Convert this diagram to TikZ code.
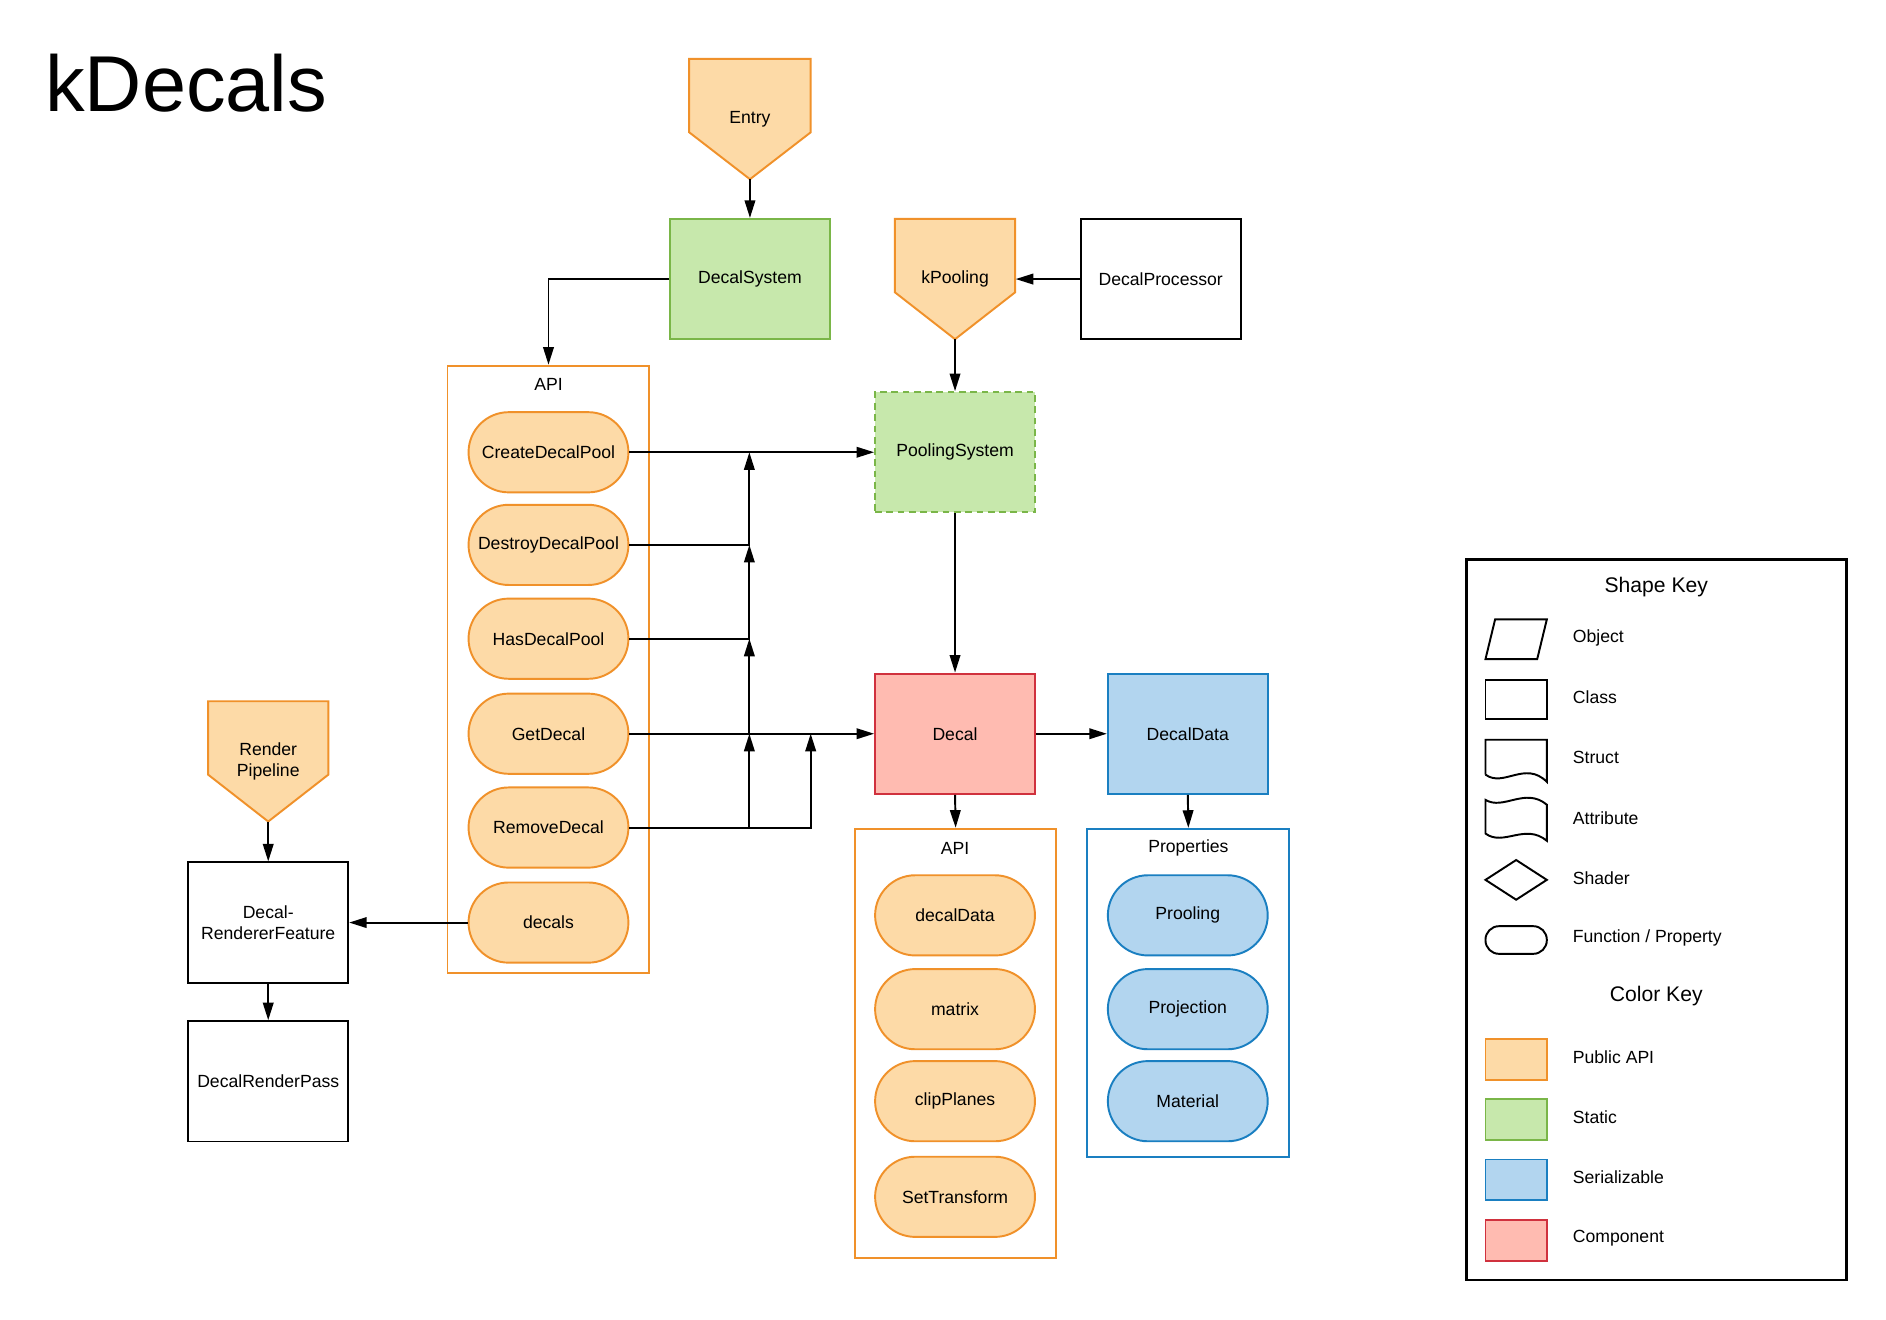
\documentclass[tikz,border=0pt]{standalone}
\usepackage{fontspec}
\setmainfont{Liberation Sans}
\usepackage{tikz}
\usetikzlibrary{arrows.meta}
\usepackage{xcolor}

\definecolor{apifill}{HTML}{FDDAA7}
\definecolor{apiline}{HTML}{F0912A}
\definecolor{staticfill}{HTML}{C7E8AC}
\definecolor{staticline}{HTML}{7AB648}
\definecolor{serialfill}{HTML}{B2D5EF}
\definecolor{serialline}{HTML}{1A7FC1}
\definecolor{compfill}{HTML}{FFBBB1}
\definecolor{compline}{HTML}{D0313E}

\begin{document}
\begin{tikzpicture}[x=0.024cm, y=-0.024cm, line width=1.1pt,
    classbox/.style={rectangle, draw=black, fill=white, minimum width=3.19cm, minimum height=2.4cm, align=center},
    staticbox/.style={classbox, draw=staticline, fill=staticfill},
    compbox/.style={classbox, draw=compline, fill=compfill},
    serialbox/.style={classbox, draw=serialline, fill=serialfill},
    pill/.style={rectangle, rounded corners=0.8cm, minimum width=3.19cm, minimum height=1.6cm, align=center},
    apipill/.style={pill, draw=apiline, fill=apifill},
    serialpill/.style={pill, draw=serialline, fill=serialfill},
    tagshape/.style={draw=apiline, fill=apifill},
    tag/.style={rectangle, inner sep=0pt, outer sep=0pt, minimum width=2.42cm, minimum height=2.4cm, align=center},
    group/.style={rectangle, draw, fill=white},
    keyline/.style={draw=black, line width=1.1pt},
    keytext/.style={anchor=west},
    arr/.style={-{Triangle[length=10pt, width=6pt]}}]

    \fill[white] (0,0) rectangle (1568,1097);
    \useasboundingbox (0,0) rectangle (1568,1097);

    % Title
    \node[anchor=base west, font=\fontsize{45}{54}\selectfont] (title) at (32,93) {kDecals};

    % Entry points
    \draw[tagshape] (573,49) -- (674,49) -- (674,110) -- (623.5,149) -- (573,110) -- cycle;
    \node[tag] (entry) at (623.5,99) {Entry};
    \draw[tagshape] (744,182) -- (844,182) -- (844,243) -- (794,282) -- (744,243) -- cycle;
    \node[tag] (kpool) at (794,232) {kPooling};
    \draw[tagshape] (173,583) -- (273,583) -- (273,644) -- (223,683) -- (173,644) -- cycle;
    \node[tag] (render) at (223,633) {Render\\Pipeline};

    % Classes
    \node[staticbox] (decalsys) at (623.5,232) {DecalSystem};
    \node[classbox] (decalproc) at (965,232) {DecalProcessor};
    \node[staticbox, dash pattern=on 3.8pt off 2.6pt] (poolsys) at (794,376) {PoolingSystem};
    \node[compbox] (decal) at (794,610) {Decal};
    \node[serialbox] (decaldata) at (987.5,610) {DecalData};
    \node[classbox] (drf) at (223,767) {Decal-\\RendererFeature};
    \node[classbox] (drp) at (223,899) {DecalRenderPass};

    % DecalSystem API
    \node[group, draw=apiline, minimum width=4.03cm, minimum height=12.12cm] (api) at (456,556.5) {};
    \node (apititle) at (456,320) {API};
    \node[apipill] (create) at (456,376) {CreateDecalPool};
    \node[apipill] (destroy) at (456,453) {DestroyDecalPool};
    \node[apipill] (has) at (456,531) {HasDecalPool};
    \node[apipill] (getdecal) at (456,610) {GetDecal};
    \node[apipill] (remove) at (456,688) {RemoveDecal};
    \node[apipill] (decals) at (456,767) {decals};

    % Decal API
    \node[group, draw=apiline, minimum width=4.01cm, minimum height=8.57cm] (apidecal) at (794.5,867.5) {};
    \node (apidecaltitle) at (794,705) {API};
    \node[apipill] (ddata) at (794,761) {decalData};
    \node[apipill] (matrix) at (794,839) {matrix};
    \node[apipill] (clip) at (794,915.5) {clipPlanes};
    \node[apipill] (settrans) at (794,995) {SetTransform};

    % DecalData properties
    \node[group, draw=serialline, minimum width=4.03cm, minimum height=6.55cm] (props) at (988,825.5) {};
    \node (propstitle) at (988,705) {Properties};
    \node[serialpill] (prooling) at (987.5,761) {Prooling};
    \node[serialpill] (projection) at (987.5,839) {Projection};
    \node[serialpill] (material) at (987.5,915.5) {Material};

    % Junctions
    \coordinate (jcreate) at (623,376);
    \coordinate (jdestroy) at (623,453);
    \coordinate (jhas) at (623,531);
    \coordinate (jget) at (623,610);
    \coordinate (jgetb) at (674,610);

    % Connections
    \draw[arr] (entry.south) -- (decalsys.north);
    \draw[arr] (decalsys.west) -| (api.north);
    \draw[arr] (decalproc.west) -- (kpool.east);
    \draw[arr] (kpool.south) -- (poolsys.north);
    \draw[arr] (poolsys.south) -- (decal.north);
    \draw[arr] (create.east) -- (poolsys.west);
    \draw[arr] (destroy.east) -| (jcreate);
    \draw[arr] (has.east) -| (jdestroy);
    \draw[arr] (getdecal.east) -| (jhas);
    \draw[arr] (getdecal.east) -- (decal.west);
    \draw[arr] (remove.east) -| (jget);
    \draw[arr] (remove.east) -| (jgetb);
    \draw[arr] (decal.east) -- (decaldata.west);
    \draw[arr] (decal.south) -- (apidecal.north);
    \draw[arr] (decaldata.south) -- (props.north);
    \draw[arr] (decals.west) -- (drf.east);
    \draw[arr] (render.south) -- (drf.north);
    \draw[arr] (drf.south) -- (drp.north);

    % Key
    \node[group, draw=black, line width=1.5pt, minimum width=7.58cm, minimum height=14.38cm] (key) at (1377,764.5) {};
    \node[font=\fontsize{12}{14}\selectfont] (shapekey) at (1377,488) {Shape Key};
    \draw[keyline] (1243,515) -- (1286,515) -- (1278,548) -- (1235,548) -- cycle;
    \node[keytext] (kobject) at (1302,530) {Object};
    \draw[keyline] (1235,565) rectangle (1286,598);
    \node[keytext] (kclass) at (1302,580) {Class};
    \draw[keyline] (1235,644) -- (1235,615) -- (1286,615) -- (1286,650) .. controls (1268,632) and (1250,655) .. (1235,644);
    \node[keytext] (kstruct) at (1302,630) {Struct};
    \draw[keyline] (1235,665) .. controls (1250,674) and (1268,654) .. (1286,669) -- (1286,699) .. controls (1268,684) and (1250,704) .. (1235,693) -- cycle;
    \node[keytext] (kattr) at (1302,680) {Attribute};
    \draw[keyline] (1235,731.5) -- (1260.5,715) -- (1286,731.5) -- (1260.5,748) -- cycle;
    \node[keytext] (kshader) at (1302,730) {Shader};
    \draw[keyline, rounded corners=0.27cm] (1235,770) rectangle (1286,793);
    \node[keytext] (kfunc) at (1302,780) {Function / Property};

    \node[font=\fontsize{12}{14}\selectfont] (colorkey) at (1377,828) {Color Key};
    \draw[draw=apiline, fill=apifill] (1235,864) rectangle (1286,898);
    \node[keytext] (kapi) at (1302,879) {Public API};
    \draw[draw=staticline, fill=staticfill] (1235,914) rectangle (1286,948);
    \node[keytext] (kstatic) at (1302,929) {Static};
    \draw[draw=serialline, fill=serialfill] (1235,964) rectangle (1286,998);
    \node[keytext] (kserial) at (1302,979) {Serializable};
    \draw[draw=compline, fill=compfill] (1235,1014) rectangle (1286,1048);
    \node[keytext] (kcomp) at (1302,1029) {Component};

\end{tikzpicture}
\end{document}
